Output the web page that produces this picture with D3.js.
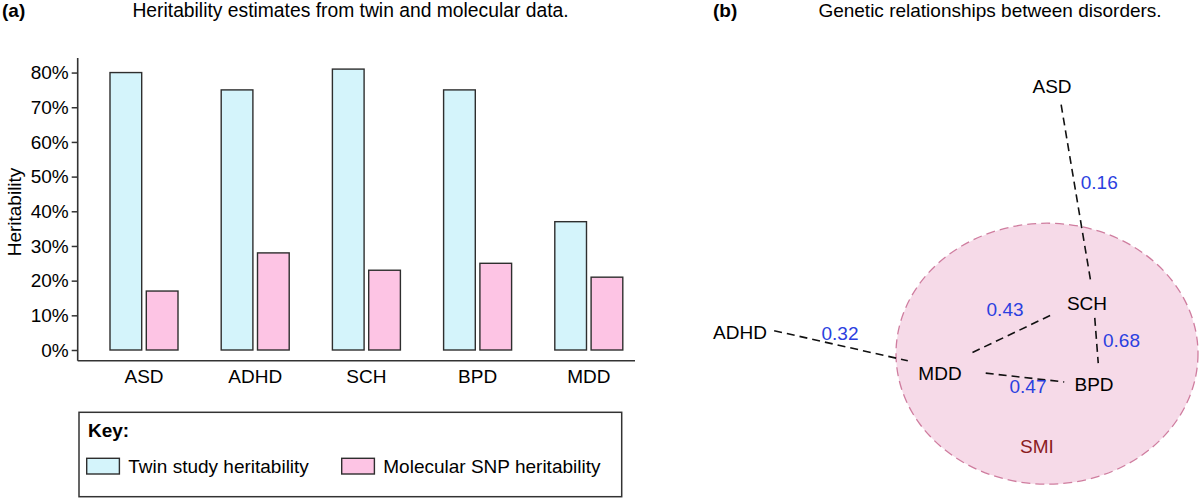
<!DOCTYPE html>
<html><head><meta charset="utf-8">
<script src="https://cdn.jsdelivr.net/npm/d3@7"></script>
<style>
html,body{margin:0;padding:0;background:#fff;}
svg{display:block;font-family:"Liberation Sans",Arial,Helvetica,sans-serif;}
</style></head>
<body><svg id="chart" width="1200" height="498"></svg>
<script>
// ---------- DATA ----------
const categories = ["ASD", "ADHD", "SCH", "BPD", "MDD"];
const twinHeritability = [0.80, 0.75, 0.81, 0.75, 0.37];
const snpHeritability = [0.17, 0.28, 0.23, 0.25, 0.21];
const yTicks = [0, 0.1, 0.2, 0.3, 0.4, 0.5, 0.6, 0.7, 0.8];
const seriesNames = ["Twin study heritability", "Molecular SNP heritability"];

const disorders = ["ASD", "ADHD", "SCH", "MDD", "BPD"];
const edgeSource = ["ASD", "SCH", "ADHD", "MDD", "MDD"];
const edgeTarget = ["SCH", "BPD", "MDD", "SCH", "BPD"];
const edgeCorrelation = [0.16, 0.68, 0.32, 0.43, 0.47];
const clusterLabel = "SMI";

// ---------- LAYOUT / STYLE ----------
const svg = d3.select("#chart");
const FS = 19;
const colTwin = "#d4f4fb", colSnp = "#fdc4e4", barStroke = "#2e2e2e";

// Titles
svg.append("text").attr("x", 2).attr("y", 17).attr("font-size", FS).attr("font-weight", "bold").text("(a)");
svg.append("text").attr("x", 350.5).attr("y", 17).attr("font-size", 19.3).attr("text-anchor", "middle")
  .text("Heritability estimates from twin and molecular data.");
svg.append("text").attr("x", 713).attr("y", 17).attr("font-size", FS).attr("font-weight", "bold").text("(b)");
svg.append("text").attr("x", 990).attr("y", 17).attr("font-size", FS).attr("text-anchor", "middle")
  .text("Genetic relationships between disorders.");

// ---------- PANEL A ----------
const axisX = 77.7, baseY = 360.7, axisRight = 635;
const y = d3.scaleLinear().domain([0, 0.842]).range([350, 58]);
const x0 = d3.scaleBand().domain(categories).range([88.4, 644.4]).paddingInner(0.3885).paddingOuter(0.19425);
const x1 = d3.scaleBand().domain(["twin", "snp"]).range([0, x0.bandwidth()]).paddingInner(0.127);

const rows = categories.map((c, i) => ({cat: c, vals: [
  {key: "twin", v: twinHeritability[i], fill: colTwin},
  {key: "snp", v: snpHeritability[i], fill: colSnp}]}));

const gA = svg.append("g");
const groups = gA.selectAll("g.grp").data(rows).join("g").attr("class", "grp")
  .attr("transform", d => `translate(${x0(d.cat)},0)`);
groups.selectAll("rect").data(d => d.vals).join("rect")
  .attr("x", d => x1(d.key)).attr("width", x1.bandwidth())
  .attr("y", d => y(d.v)).attr("height", d => y(0) - y(d.v))
  .attr("fill", d => d.fill).attr("stroke", barStroke).attr("stroke-width", 1.4);

// y axis
const yAxis = d3.axisLeft(y).tickValues(yTicks).tickFormat(d3.format(".0%")).tickSize(6).tickSizeOuter(0).tickPadding(3);
const gy = gA.append("g").attr("transform", `translate(${axisX},0)`).call(yAxis);
gy.select(".domain").remove();
gy.selectAll(".tick line").attr("stroke", "#333").attr("stroke-width", 1.5);
gy.selectAll(".tick text").attr("font-size", FS).attr("fill", "#000").attr("font-family", null);
gA.append("line").attr("x1", axisX).attr("x2", axisX).attr("y1", y(0.842)).attr("y2", baseY)
  .attr("stroke", "#333").attr("stroke-width", 1.6);
gA.append("line").attr("x1", axisX).attr("x2", axisRight).attr("y1", baseY).attr("y2", baseY)
  .attr("stroke", "#333").attr("stroke-width", 1.6);

// x labels
gA.selectAll("text.cat").data(categories).join("text").attr("class", "cat")
  .attr("x", d => x0(d) + x0.bandwidth() / 2).attr("y", 383)
  .attr("text-anchor", "middle").attr("font-size", FS).text(d => d);

// y label
gA.append("text").attr("transform", "translate(14,212) rotate(-90)")
  .attr("text-anchor", "middle").attr("dominant-baseline", "central").attr("font-size", FS)
  .text("Heritability");

// legend
const lg = svg.append("g");
lg.append("rect").attr("x", 79).attr("y", 412.3).attr("width", 542.7).attr("height", 84.4)
  .attr("fill", "#fff").attr("stroke", "#333").attr("stroke-width", 1.5);
lg.append("text").attr("x", 88).attr("y", 437).attr("font-size", FS).attr("font-weight", "bold").text("Key:");
const legX = [86.7, 341.7];
const legFill = [colTwin, colSnp];
seriesNames.forEach((s, i) => {
  lg.append("rect").attr("x", legX[i]).attr("y", 458.3).attr("width", 32.7).attr("height", 15.7)
    .attr("fill", legFill[i]).attr("stroke", barStroke).attr("stroke-width", 1.4);
  lg.append("text").attr("x", legX[i] + 41.6).attr("y", 473).attr("font-size", FS).text(s);
});

// ---------- PANEL B ----------
const gB = svg.append("g");
gB.append("ellipse").attr("cx", 1047).attr("cy", 353.7).attr("rx", 151).attr("ry", 130.5)
  .attr("fill", "#f6dae8").attr("stroke", "#cf7d9f").attr("stroke-width", 1.3).attr("stroke-dasharray", "9,5");
gB.append("text").attr("x", 1037).attr("y", 453).attr("text-anchor", "middle").attr("font-size", FS)
  .attr("fill", "#8a1c22").text(clusterLabel);

// node anchors (layout) and label offsets
const nodePos = {ASD: [1058, 86], ADHD: [740, 323], SCH: [1093, 295], MDD: [940, 368], BPD: [1100, 386]};
const labelOff = {ASD: [-6, 0], ADHD: [0, 9], SCH: [-6, 8], MDD: [0, 5], BPD: [-6, -1.5]};
// per edge: trim at start, trim at end, label t, label dx, label dy
const edgeLayout = [
  {t0: 19, t1: 12, lt: 0.464, dx: 25, dy: 0},
  {t0: 23, t1: 23, lt: 0.495, dx: 25, dy: 0},
  {t0: 35, t1: 33, lt: 0.5, dx: 0, dy: -12},
  {t0: 36, t1: 43, lt: 0.425, dx: 0, dy: -27},
  {t0: 46, t1: 36, lt: 0.55, dx: 0, dy: 9}
];

const edges = edgeSource.map((s, i) => ({s, t: edgeTarget[i], r: edgeCorrelation[i], L: edgeLayout[i]}));
edges.forEach(e => {
  const [ax, ay] = nodePos[e.s], [bx, by] = nodePos[e.t];
  const len = Math.hypot(bx - ax, by - ay), ux = (bx - ax) / len, uy = (by - ay) / len;
  gB.append("line")
    .attr("x1", ax + ux * e.L.t0).attr("y1", ay + uy * e.L.t0)
    .attr("x2", bx - ux * e.L.t1).attr("y2", by - uy * e.L.t1)
    .attr("stroke", "#111").attr("stroke-width", 1.6).attr("stroke-dasharray", "8,5");
  gB.append("text")
    .attr("x", ax + (bx - ax) * e.L.lt + e.L.dx).attr("y", ay + (by - ay) * e.L.lt + e.L.dy)
    .attr("text-anchor", "middle").attr("dominant-baseline", "central")
    .attr("font-size", FS).attr("fill", "#2b3fe0").text(d3.format(".2f")(e.r));
});

gB.selectAll("text.node").data(disorders).join("text").attr("class", "node")
  .attr("x", d => nodePos[d][0] + labelOff[d][0]).attr("y", d => nodePos[d][1] + labelOff[d][1])
  .attr("text-anchor", "middle").attr("dominant-baseline", "central")
  .attr("font-size", FS).attr("fill", "#000").text(d => d);
</script></body></html>
